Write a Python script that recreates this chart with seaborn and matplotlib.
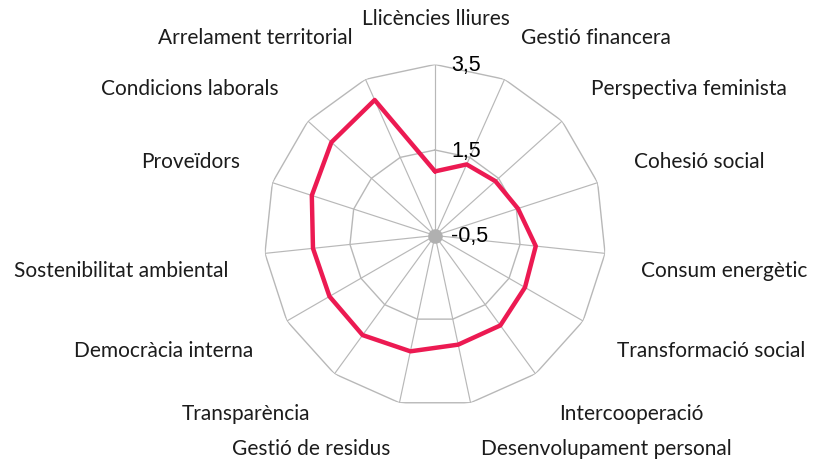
import numpy as np
import pandas as pd
import matplotlib
matplotlib.use("Agg")
import matplotlib.pyplot as plt
import matplotlib.transforms as mtransforms
import seaborn as sns

categories = ["Llicències lliures", "Gestió financera", "Perspectiva feminista",
              "Cohesió social", "Consum energètic", "Transformació social",
              "Intercooperació", "Desenvolupament personal", "Gestió de residus",
              "Transparència", "Democràcia interna", "Sostenibilitat ambiental",
              "Proveïdors", "Condicions laborals", "Arrelament territorial"]
values = [1.0, 1.32, 1.40, 1.54, 1.87, 1.93, 2.10, 2.11, 2.27, 2.38, 2.35, 2.37,
          2.53, 2.76, 2.97]
ring_values = [-0.5, 1.5, 3.5]
ring_labels = ["-0,5", "1,5", "3,5"]

# label layout (figure pixel centres, from top-left)
label_pos = [(436, 19), (596, 38), (689, 89), (699, 162), (724, 271), (711, 351),
             (631, 414), (606, 449), (311, 449), (246, 414), (164, 351),
             (121, 271), (191, 162), (190, 89), (255, 38)]

W, H = 813, 464
sns.set_theme(style="white")
plt.rcParams['font.family'] = ['Lato', 'DejaVu Sans']

fig = plt.figure(figsize=(W / 100, H / 100), dpi=100)
cx, cy, R = 435, 236.5, 171
ax = fig.add_axes([(cx - R) / W, (H - cy - R) / H, 2 * R / W, 2 * R / H], projection='polar')
ax.set_theta_zero_location('N')
ax.set_theta_direction(-1)
ax.set_ylim(ring_values[0], ring_values[-1])
ax.grid(False)
ax.spines['polar'].set_visible(False)
ax.set_xticks([])
ax.set_yticks([])
ax.patch.set_alpha(0)

n = len(categories)
theta = np.arange(n) * 2 * np.pi / n
grid_col = '#b8b8b8'
for t in theta:
    ax.plot([t, t], [ring_values[0], ring_values[-1]], color=grid_col, lw=0.85, zorder=1)
for rv in ring_values[1:]:
    ax.plot(np.append(theta, theta[0]), [rv] * (n + 1), color=grid_col, lw=1.0, zorder=1)
ax.scatter([0], [ring_values[0]], s=110, color='#b0b0b0', zorder=2, linewidths=0)

df = pd.DataFrame({"theta": np.append(theta, theta[0]), "value": values + [values[0]]})
sns.lineplot(data=df, x="theta", y="value", sort=False, estimator=None, ax=ax,
             color='#EC1A52', lw=3.2, zorder=3)
ax.set_xlabel("")
ax.set_ylabel("")

off = mtransforms.offset_copy(ax.transData, fig=fig, x=16, y=0, units='dots')
for rv, lab in zip(ring_values, ring_labels):
    ax.text(0, rv, lab, transform=off, ha='left', va='center', fontsize=15.5,
            family=['Liberation Sans', 'DejaVu Sans'], color='black', zorder=4)

for lab, (x, y) in zip(categories, label_pos):
    fig.text(x / W, 1 - y / H, lab, ha='center', va='center', fontsize=15,
             color='#1c1c1c')

fig.savefig("out.png", dpi=100)
